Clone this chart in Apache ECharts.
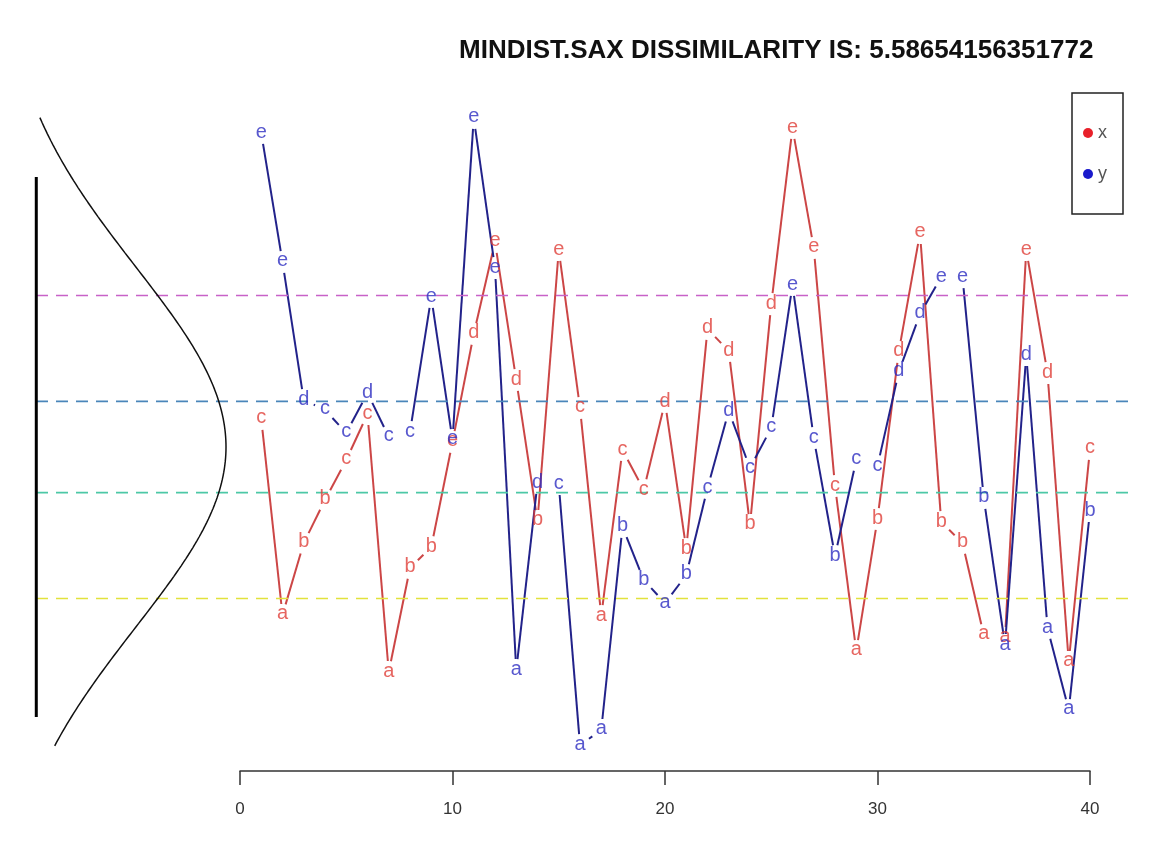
<!DOCTYPE html>
<html><head><meta charset="utf-8">
<script src="https://cdn.jsdelivr.net/npm/echarts@6/dist/echarts.min.js"></script>
<style>html,body{margin:0;padding:0;background:#fff}#c{width:1157px;height:845px}</style>
</head><body><div id="c"></div>
<script>
var titleText = 'MINDIST.SAX DISSIMILARITY IS: 5.58654156351772';
var timeIndex = [1,2,3,4,5,6,7,8,9,10,11,12,13,14,15,16,17,18,19,20,21,22,23,24,25,26,27,28,29,30,31,32,33,34,35,36,37,38,39,40];
var xValues = [0.156,-0.933,-0.533,-0.294,-0.072,0.183,-1.25,-0.672,-0.556,0.028,0.628,1.139,0.372,-0.411,1.094,0.217,-0.939,-0.017,-0.239,0.25,-0.567,0.656,0.533,-0.433,0.794,1.772,1.106,-0.217,-1.133,-0.4,0.528,1.189,-0.417,-0.533,-1.044,-1.061,1.094,0.411,-1.194,-0.011];
var xLetters = ['c','a','b','b','c','c','a','b','b','e','d','e','d','b','e','c','a','c','c','d','b','d','d','b','d','e','e','c','a','b','d','e','b','b','a','a','e','d','a','c'];
var yValues = [1.744,1.028,0.261,0.206,0.078,0.3,0.056,0.083,0.833,0.039,1.828,0.994,-1.239,-0.2,-0.206,-1.656,-1.572,-0.444,-0.739,-0.867,-0.711,-0.228,0.2,-0.117,0.106,0.9,0.05,-0.606,-0.072,-0.106,0.417,0.739,0.944,0.944,-0.283,-1.1,0.511,-1.006,-1.461,-0.356];
var yLetters = ['e','e','d','c','c','d','c','c','e','e','e','e','a','d','c','a','a','b','b','a','b','c','d','c','c','e','c','b','c','c','d','d','e','e','b','a','d','a','a','b'];
var breakpoints = [-0.8416, -0.2533, 0.2533, 0.8416];
var seriesNames = ['x', 'y'];
var curveRange = [-1.66, 1.83];
var barRange = [-1.5, 1.5];

// styles
var breakColors = ['#e2e23c', '#4cc8a6', '#4a86ba', '#c862c8'];
var lineColors = ['#cc4646', '#22228a'];
var letterColors = ['#e0403a', '#2e2ec2'];
var legendColors = ['#e8202a', '#1a1acc'];
var GAP = 11;

function dnorm(v) { return Math.exp(-v * v / 2) / Math.sqrt(2 * Math.PI); }
var curveData = [];
for (var k = 0; k <= 349; k++) {
  var v = curveRange[0] + (curveRange[1] - curveRange[0]) * k / 349;
  curveData.push([dnorm(v), v]);
}

function segments(vals) {
  var out = [];
  for (var i = 0; i < vals.length - 1; i++) out.push([timeIndex[i], vals[i], timeIndex[i + 1], vals[i + 1]]);
  return out;
}
function makeRender(color) {
  return function (params, api) {
    var p1 = api.coord([api.value(0), api.value(1)]);
    var p2 = api.coord([api.value(2), api.value(3)]);
    var dx = p2[0] - p1[0], dy = p2[1] - p1[1];
    var len = Math.sqrt(dx * dx + dy * dy);
    if (len <= 2 * GAP + 1) return { type: 'group', children: [] };
    var ux = dx / len, uy = dy / len;
    return {
      type: 'line',
      shape: { x1: p1[0] + ux * GAP, y1: p1[1] + uy * GAP, x2: p2[0] - ux * GAP, y2: p2[1] - uy * GAP },
      style: { stroke: color, lineWidth: 2 }
    };
  };
}
function points(vals) { return vals.map(function (v, i) { return [timeIndex[i], v]; }); }
function letterSeries(name, vals, letters, color) {
  return {
    name: name, type: 'scatter', xAxisIndex: 0, yAxisIndex: 0, z: 5,
    symbol: 'circle', symbolSize: 1,
    itemStyle: { color: 'rgba(0,0,0,0)' },
    data: points(vals),
    label: {
      show: true, position: 'inside', offset: [0, -1],
      formatter: function (p) { return letters[p.dataIndex]; },
      color: color, fontSize: 20, fontFamily: 'Liberation Sans'
    },
    emphasis: { disabled: true }
  };
}

var series = [];
breakpoints.forEach(function (b, i) {
  series.push({
    type: 'line', xAxisIndex: 1, yAxisIndex: 1, symbol: 'none', silent: true,
    data: [[0.068, b], [1.97, b]],
    lineStyle: { color: breakColors[i], width: 1.6, type: [12, 8] }
  });
});
series.push({
  type: 'line', xAxisIndex: 1, yAxisIndex: 1, symbol: 'none', silent: true,
  data: curveData, lineStyle: { color: '#111', width: 1.5 }
});
series.push({
  type: 'line', xAxisIndex: 1, yAxisIndex: 1, symbol: 'none', silent: true,
  data: [[0.0685, barRange[0]], [0.0685, barRange[1]]], lineStyle: { color: '#000', width: 3 }
});
series.push({
  name: seriesNames[0], type: 'custom', xAxisIndex: 0, yAxisIndex: 0, z: 3,
  renderItem: makeRender(lineColors[0]), encode: { x: [0, 2], y: [1, 3] },
  data: segments(xValues), itemStyle: { color: legendColors[0] }
});
series.push({
  name: seriesNames[1], type: 'custom', xAxisIndex: 0, yAxisIndex: 0, z: 3,
  renderItem: makeRender(lineColors[1]), encode: { x: [0, 2], y: [1, 3] },
  data: segments(yValues), itemStyle: { color: legendColors[1] }
});
series.push(letterSeries(seriesNames[0], xValues, xLetters, letterColors[0]));
series.push(letterSeries(seriesNames[1], yValues, yLetters, letterColors[1]));

var chart = echarts.init(document.getElementById('c'), null, { renderer: 'canvas' });
chart.setOption({
  animation: false,
  backgroundColor: '#ffffff',
  title: {
    text: titleText, left: 454, top: 33,
    textStyle: { fontSize: 26, fontWeight: 'bold', fontFamily: 'Liberation Sans', color: '#111' }
  },
  legend: {
    orient: 'vertical', left: 1072, top: 93,
    padding: [31, 16, 31, 11], itemGap: 23, itemWidth: 10, itemHeight: 10,
    borderColor: '#222', borderWidth: 1.5,
    selectedMode: false,
    textStyle: { fontSize: 18, color: '#555', fontFamily: 'Liberation Sans' },
    data: [
      { name: seriesNames[0], icon: 'circle', itemStyle: { color: legendColors[0] } },
      { name: seriesNames[1], icon: 'circle', itemStyle: { color: legendColors[1] } }
    ]
  },
  grid: [
    { left: 240, right: 67, top: 105, height: 666 },
    { left: 36, right: 29, top: 105, height: 666 }
  ],
  xAxis: [
    {
      type: 'value', gridIndex: 0, min: 0, max: 40, interval: 10,
      axisLine: { show: true, onZero: false, lineStyle: { color: '#333', width: 1.5 } },
      axisTick: { show: true, inside: false, length: 14, lineStyle: { color: '#333', width: 1.5 } },
      axisLabel: { margin: 30, fontSize: 17, color: '#333', fontFamily: 'Liberation Sans' },
      splitLine: { show: false }
    },
    { type: 'value', gridIndex: 1, min: 0.068, max: 1.97, show: false }
  ],
  yAxis: [
    { type: 'value', gridIndex: 0, min: -1.8, max: 1.9, show: false },
    { type: 'value', gridIndex: 1, min: -1.8, max: 1.9, show: false }
  ],
  series: series
});
</script>
</body></html>
